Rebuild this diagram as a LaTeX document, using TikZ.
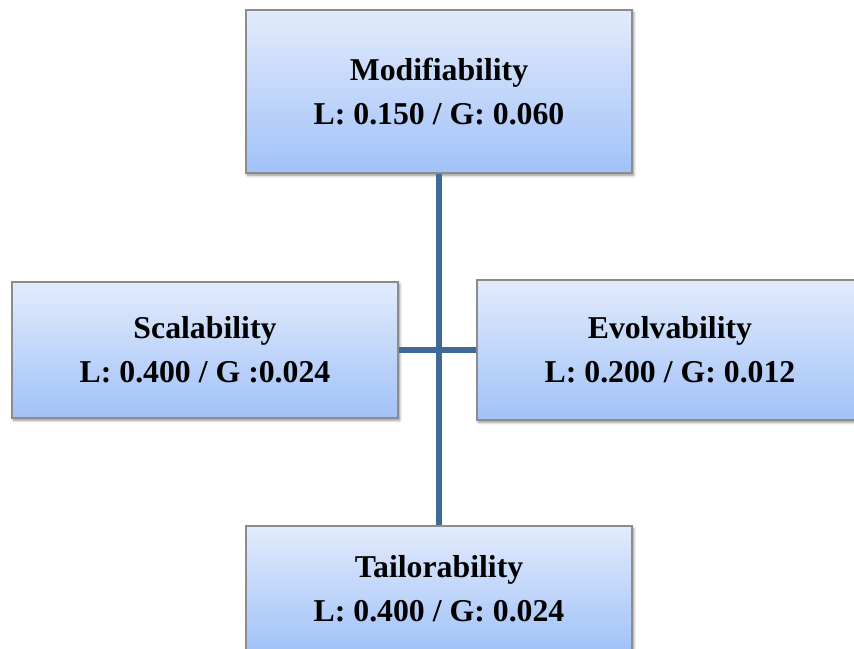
\documentclass[tikz,border=0pt]{standalone}
\usepackage{fontspec}
\setmainfont{Liberation Serif}
\usetikzlibrary{positioning,shadows.blur}
\definecolor{boxTop}{RGB}{226,235,252}
\definecolor{boxBot}{RGB}{161,194,248}
\definecolor{boxEdge}{RGB}{140,140,140}
\definecolor{linkBlue}{RGB}{62,106,154}
\tikzset{
  attrbox/.style={draw=boxEdge, line width=1pt, top color=boxTop, bottom color=boxBot,
    minimum width=9.65cm, inner sep=0pt, align=center,
    font=\bfseries\fontsize{22.6}{31.3}\selectfont,
    blur shadow={shadow blur steps=6, shadow opacity=45,
                 shadow xshift=1.2pt, shadow yshift=-1.6pt}},
  linkln/.style={linkBlue, line width=4.3pt},
}
\begin{document}
\begin{tikzpicture}[x=0.025cm, y=-0.025cm]
  \useasboundingbox (0,0) rectangle (854,649);
  \clip (0,0) rectangle (854,649);
  % attribute boxes
  \node[attrbox, minimum height=4.075cm] (modif) at (439,91.5)
    {Modifiability\\L: 0.150 / G: 0.060};
  \node[attrbox, minimum height=3.4cm] (scal) at (205,350)
    {Scalability\\L: 0.400 / G :0.024};
  \node[attrbox, minimum height=3.5cm] (evol) at (670,350)
    {Evolvability\\L: 0.200 / G: 0.012};
  \node[attrbox, minimum height=3.125cm] (tail) at (439,588.5)
    {Tailorability\\L: 0.400 / G: 0.024};
  % connectors
  \draw[linkln] (modif.south) -- (tail.north);
  \draw[linkln] (scal.east) -- (evol.west);
\end{tikzpicture}
\end{document}
